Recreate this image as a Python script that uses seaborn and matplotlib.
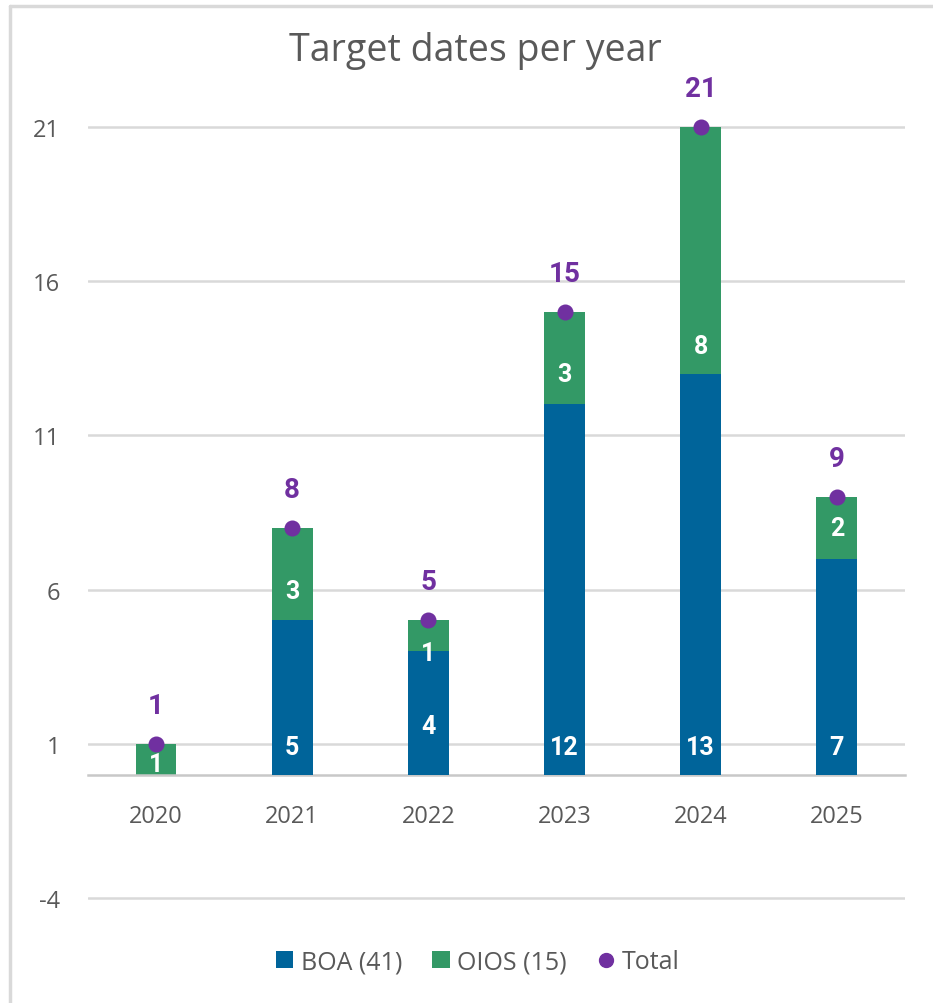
import numpy as np
import pandas as pd
import matplotlib
matplotlib.use("Agg")
import matplotlib.pyplot as plt
from matplotlib.lines import Line2D
from matplotlib.patches import Patch
import seaborn as sns

# Data
YEARS = ["2020", "2021", "2022", "2023", "2024", "2025"]
BOA = [0, 5, 4, 12, 13, 7]
OIOS = [1, 3, 1, 3, 8, 2]
LEGEND_LABELS = ["BOA (41)", "OIOS (15)", "Total"]
Y_TICKS = [-4, 1, 6, 11, 16, 21]

BLUE = "#00649a"
GREEN = "#339966"
PURPLE = "#7030a0"
GRID = "#d9d9d9"
TEXT = "#595959"

df = pd.DataFrame({"year": YEARS, "boa": BOA, "oios": OIOS})
df["total"] = df["boa"] + df["oios"]

sns.set_theme(style="white")
plt.rcParams["font.family"] = ["Open Sans", "DejaVu Sans"]
plt.rcParams["axes.unicode_minus"] = False

fig = plt.figure(figsize=(9.33, 10.04), dpi=100)
ax = fig.add_axes([0.0943, 0.0892, 0.8757, 0.845])

# stacked bars: total in OIOS colour, BOA drawn over it
sns.barplot(data=df, x="year", y="total", color=GREEN, width=0.30,
            saturation=1, linewidth=0, ax=ax, zorder=2)
sns.barplot(data=df, x="year", y="boa", color=BLUE, width=0.30,
            saturation=1, linewidth=0, ax=ax, zorder=3)
sns.pointplot(data=df, x="year", y="total", color=PURPLE, linestyle="none",
              markers="o", markersize=9.5, ax=ax, zorder=4)

ax.set_xlim(-0.5, 5.5)
ax.set_ylim(-4.5, 23)
ax.set_yticks(Y_TICKS)
ax.yaxis.grid(True, color=GRID, linewidth=1.8, zorder=0)
ax.set_axisbelow(True)
sns.despine(ax=ax, left=True)
# category axis sits on zero, like the source chart
ax.spines["bottom"].set_position(("data", 0))
ax.spines["bottom"].set_color("#c8c8c8")
ax.spines["bottom"].set_linewidth(1.8)
ax.tick_params(axis="both", length=0, labelsize=17, labelcolor=TEXT)
ax.tick_params(axis="y", pad=20)
ax.tick_params(axis="x", pad=21)
ax.set_xlabel("")
ax.set_ylabel("")

# segment labels (positions relative to each segment base)
boa_label_y = [None, 0.9, 1.56, 0.9, 0.9, 0.9]
oios_label_y = [0.36, 5.96, 3.95, 13.0, 13.9, 8.0]
for i in range(len(YEARS)):
    if BOA[i] > 0:
        ax.text(i, boa_label_y[i], str(BOA[i]), ha="center", va="center",
                color="white", fontsize=18, fontweight="bold",
                family="Roboto", zorder=5)
    ax.text(i, oios_label_y[i], str(OIOS[i]), ha="center", va="center",
            color="white", fontsize=18, fontweight="bold",
            family="Roboto", zorder=5)
    ax.text(i, df["total"][i] + 1.25, str(df["total"][i]), ha="center",
            va="center", color=PURPLE, fontsize=20, fontweight="bold",
            family="Roboto", zorder=5)

fig.text(0.509, 0.949, "Target dates per year", ha="center", va="center",
         fontsize=27, color=TEXT)

handles = [Patch(facecolor=BLUE, edgecolor="none"),
           Patch(facecolor=GREEN, edgecolor="none"),
           Line2D([], [], marker="o", color=PURPLE, linestyle="none",
                  markersize=10)]
fig.legend(handles, LEGEND_LABELS, loc="center", bbox_to_anchor=(0.512, 0.041),
           ncol=3, frameon=False, fontsize=18, handlelength=0.7,
           handleheight=0.7, handletextpad=0.3, columnspacing=1.2,
           labelcolor=TEXT)

# frame around the chart (only top and left edges visible in the crop)
fig.add_artist(Line2D([10 / 933, 1], [1 - 7 / 1004, 1 - 7 / 1004],
                      transform=fig.transFigure, color=GRID, linewidth=2.5))
fig.add_artist(Line2D([10 / 933, 10 / 933], [0, 1 - 7 / 1004],
                      transform=fig.transFigure, color=GRID, linewidth=2.5))

fig.savefig("out.png", dpi=100)
